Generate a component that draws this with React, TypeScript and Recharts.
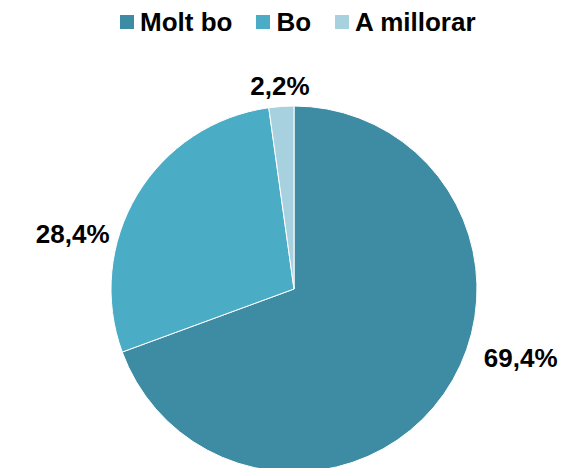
import { PieChart, Pie, Cell, Legend } from "recharts";

const categories = ["Molt bo", "Bo", "A millorar"];
const shares = [69.4, 28.4, 2.2];
const colors = ["#3E8CA3", "#4BACC6", "#A8D1DF"];

const data = categories.map((name, i) => ({ name, value: shares[i] }));

const FONT = '"Liberation Sans", Arial, sans-serif';
const RAD = Math.PI / 180;

// Excel "best fit" puts labels off the mid-angle; nudge per slice
const labelNudge = [
  { angle: 18, dr: 54 },
  { angle: 17, dr: 45 },
  { angle: 0, dr: 20 },
];

function renderLabel(props: any) {
  const { cx, cy, outerRadius, midAngle, index, value } = props;
  const n = labelNudge[index];
  const a = (midAngle + n.angle) * RAD;
  const r = outerRadius + n.dr;
  const x = cx + r * Math.cos(a);
  const y = cy - r * Math.sin(a);
  return (
    <text
      x={x}
      y={y}
      textAnchor="middle"
      dominantBaseline="central"
      fill="#000"
      fontFamily={FONT}
      fontWeight="bold"
      fontSize={26}
    >
      {value.toFixed(1).replace(".", ",")}%
    </text>
  );
}

function LegendContent() {
  return (
    <div
      style={{
        display: "flex",
        alignItems: "center",
        paddingLeft: 120,
        fontFamily: FONT,
        fontWeight: "bold",
        fontSize: 26,
        color: "#000",
        lineHeight: "30px",
      }}
    >
      {categories.map((c, i) => (
        <div
          key={c}
          style={{ display: "flex", alignItems: "center", marginRight: 24 }}
        >
          <span
            style={{
              width: 14,
              height: 14,
              background: colors[i],
              display: "inline-block",
              marginRight: 6,
            }}
          />
          <span>{c}</span>
        </div>
      ))}
    </div>
  );
}

export default function App() {
  return (
    <div
      style={{
        position: "absolute",
        left: 0,
        top: 0,
        width: 563,
        height: 468,
        background: "#fff",
        overflow: "hidden",
      }}
    >
      <PieChart
        width={563}
        height={468}
        margin={{ top: 7, right: 0, bottom: 0, left: 0 }}
      >
        <Legend verticalAlign="top" align="left" content={<LegendContent />} />
        {/* cy is measured below the legend band (7 + 30px) */}
        <Pie
          data={data}
          dataKey="value"
          nameKey="name"
          cx={294}
          cy={252}
          outerRadius={183}
          startAngle={90}
          endAngle={-270}
          stroke="#fff"
          strokeWidth={1}
          label={renderLabel}
          labelLine={false}
          isAnimationActive={false}
        >
          {data.map((d, i) => (
            <Cell key={d.name} fill={colors[i]} />
          ))}
        </Pie>
      </PieChart>
    </div>
  );
}
